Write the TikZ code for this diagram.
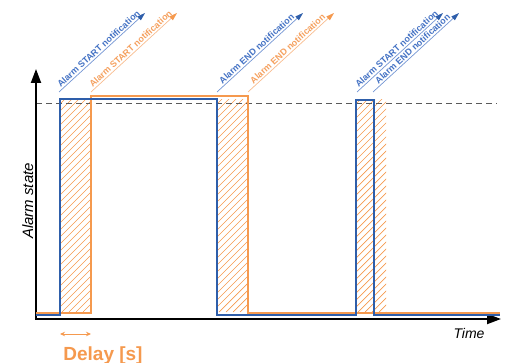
\documentclass[tikz,border=0pt]{standalone}
\usepackage{fontspec}
\setmainfont{Liberation Sans}
\usetikzlibrary{arrows.meta}
\definecolor{SigBlue}{HTML}{2E5EAA}
\definecolor{SigOrange}{HTML}{F5994E}
\definecolor{NoteBlue}{HTML}{4472C4}
\definecolor{NoteOrange}{HTML}{F5A05E}

\begin{document}
\begin{tikzpicture}[x=1pt, y=-1pt,
    axis/.style={line width=2pt, {Triangle[length=14pt,width=10pt]}-{Triangle[length=14pt,width=10pt]}},
    blueline/.style={SigBlue, line width=2pt},
    orangeline/.style={SigOrange, line width=2pt},
    hatchline/.style={SigOrange, line width=0.7pt},
    noteblue/.style={NoteBlue!75, line width=0.7pt, -{Triangle[length=8pt,width=5pt,color=SigBlue]}},
    noteorange/.style={NoteOrange!70, line width=0.7pt, -{Triangle[length=8pt,width=5pt,color=SigOrange]}},
    notelabel/.style={font=\bfseries\fontsize{9}{9}\selectfont, rotate=42.5, anchor=south, midway, inner sep=1.5pt}]
  \useasboundingbox (0,0) rectangle (508,363);

  % delay areas
  \foreach \xa/\xb in {60/91, 217/248, 356/386} {
    \begin{scope}
      \clip (\xa,100) rectangle (\xb,312);
      \foreach \k in {0,...,36}
        \draw[hatchline] (\xa-215+\k*7,312) -- ++(230,-230);
    \end{scope}
  }

  % threshold
  \draw[black!65, line width=1.1pt, dash pattern=on 6pt off 4pt] (36,103.7) -- (497,103.7);

  % axes
  \coordinate (ytip) at (36,69);
  \coordinate (O) at (36,319);
  \coordinate (xtip) at (501,319);
  \draw[axis] (ytip) -- (O) -- (xtip);

  % signals
  \draw[orangeline] (36,312.5) -- (91,312.5) -- (91,96) -- (248,96) -- (248,312.5) -- (500,312.5);
  \draw[blueline] (36,315) -- (60,315) -- (60,99.5) -- (217,99.5) -- (217,315) -- (356,315)
    -- (356,100) -- (374,100) -- (374,315) -- (500,315);

  % notifications
  \coordinate (sb1) at (59,92);   \coordinate (sb1t) at (145,13);
  \coordinate (so1) at (91,92);   \coordinate (so1t) at (177,13);
  \coordinate (eb1) at (217,92);  \coordinate (eb1t) at (303,13);
  \coordinate (eo1) at (248,92);  \coordinate (eo1t) at (334,13);
  \coordinate (sb2) at (357,92);  \coordinate (sb2t) at (443,13);
  \coordinate (eb2) at (373,92);  \coordinate (eb2t) at (459,13);
  \draw[noteblue] (sb1) -- node[notelabel, text=NoteBlue] (nsb1) {Alarm START notification} (sb1t);
  \draw[noteorange] (so1) -- node[notelabel, text=NoteOrange] (nso1) {Alarm START notification} (so1t);
  \draw[noteblue] (eb1) -- node[notelabel, text=NoteBlue] (neb1) {Alarm END notification} (eb1t);
  \draw[noteorange] (eo1) -- node[notelabel, text=NoteOrange] (neo1) {Alarm END notification} (eo1t);
  \draw[noteblue] (sb2) -- node[notelabel, text=NoteBlue] (nsb2) {Alarm START notification} (sb2t);
  \draw[noteblue] (eb2) -- node[notelabel, text=NoteBlue] (neb2) {Alarm END notification} (eb2t);

  % labels
  \node[rotate=90, anchor=base, font=\itshape\fontsize{15}{15}\selectfont] (ylabel) at (33,201) {Alarm state};
  \node[anchor=base, font=\itshape\fontsize{14}{14}\selectfont] (xlabel) at (469,338) {Time};
  \coordinate (d1) at (60,334);
  \coordinate (d2) at (91,334);
  \draw[SigOrange, line width=1pt, {Stealth[length=5pt,width=4.5pt]}-{Stealth[length=5pt,width=4.5pt]}] (d1) -- (d2);
  \node[anchor=base, text=SigOrange, font=\bfseries\fontsize{19}{19}\selectfont] (delay) at (103,360) {Delay [s]};
\end{tikzpicture}
\end{document}
